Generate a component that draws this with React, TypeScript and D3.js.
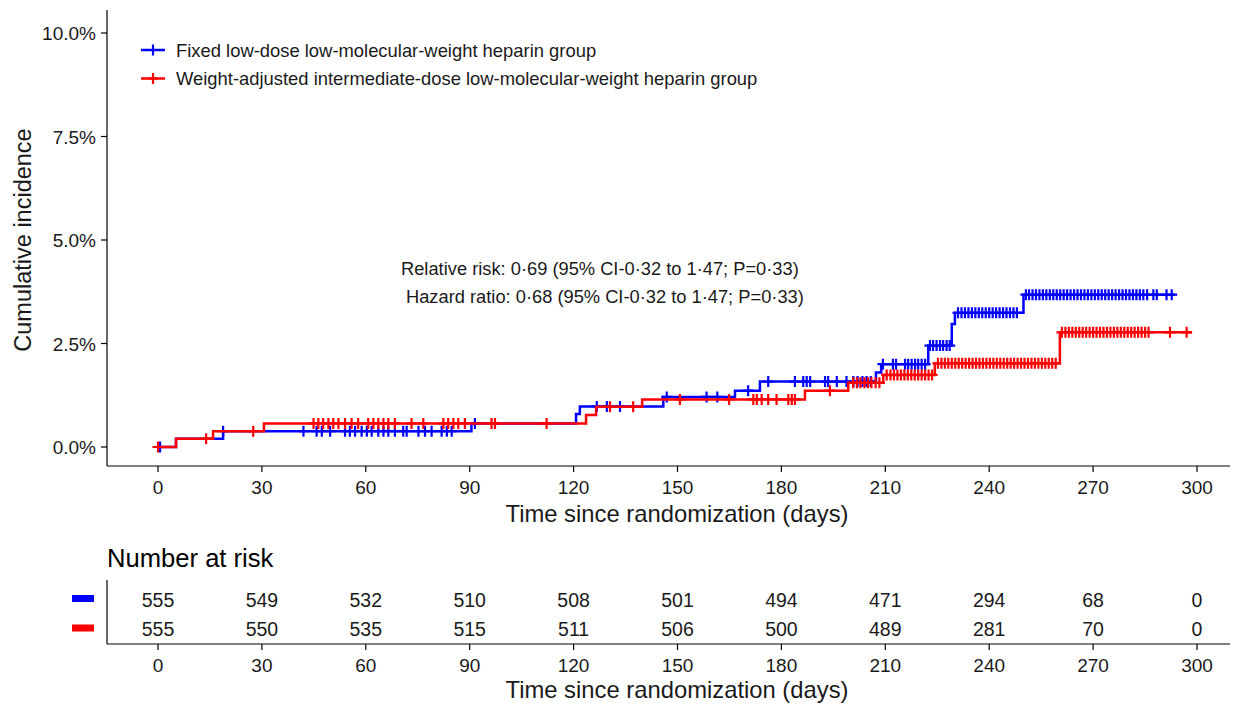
import React from 'react';
import * as d3 from 'd3';

// Cumulative incidence steps (day, %)
const blueTimes = [0, 5.2, 18.8, 90.5, 120.7, 121.8, 145.9, 166.6, 173.8, 207.3, 208.8, 222.4, 229.2, 230.1, 249.9];
const blueCum = [0, 0.2, 0.38, 0.57, 0.8, 0.98, 1.21, 1.36, 1.58, 1.8, 2.0, 2.45, 2.97, 3.24, 3.68];
const blueEnd = 293.6;

const redTimes = [0, 5.2, 15.9, 30.6, 123.6, 126.5, 139.8, 186.8, 199.3, 209.4, 224.3, 260.4];
const redCum = [0, 0.2, 0.38, 0.57, 0.77, 0.97, 1.15, 1.36, 1.55, 1.74, 2.02, 2.77];
const redEnd = 298.5;

// censoring marks (days)
const blueCensor = [
  0.6, 18.8, 42.0, 45.8, 47.3, 49.7, 54.0, 55.4, 56.9, 58.8, 60.3, 61.7, 63.6, 65.1, 66.5, 68.4, 70.8, 71.8,
  75.2, 77.1, 79.0, 81.9, 83.4, 84.8, 91.5, 126.7, 129.6, 133.4, 146.9, 158.4, 161.5, 170.4, 176.2, 183.9,
  186.3, 187.3, 188.3, 192.6, 193.5, 196.0, 198.8, 200.8, 202.0, 203.4, 204.6, 205.8, 209.3, 212.2, 213.1,
  215.7, 216.6, 217.6, 218.6, 219.5, 220.5, 221.5, 222.9, 223.8, 224.8, 225.8, 226.7, 227.7, 228.6, 231.0,
  232.0, 233.0, 234.0, 235.0, 236.0, 237.0, 238.0, 239.0, 240.0, 241.0, 242.0, 243.0, 244.0, 245.0, 246.0,
  247.0, 248.0, 250.6, 251.5, 252.5, 253.5, 254.5, 255.5, 256.5, 257.5, 258.5, 259.5, 260.5, 261.5, 262.5,
  263.5, 264.5, 265.5, 266.5, 267.5, 268.5, 269.5, 270.5, 271.5, 272.5, 273.5, 274.5, 275.5, 276.5, 277.5,
  278.5, 279.5, 280.5, 281.5, 282.5, 283.5, 284.5, 285.6, 287.4, 288.4, 291.2, 292.7,
];
const redCensor = [
  0, 13.9, 27.5, 44.9, 46.3, 47.7, 49.2, 50.6, 52.1, 54.0, 55.9, 57.8, 60.7, 62.2, 63.6, 65.1, 66.5, 68.4,
  73.2, 76.6, 82.4, 83.8, 85.3, 86.7, 88.6, 96.3, 97.3, 112.2, 130.5, 137.2, 150.7, 164.9, 171.9, 172.9,
  174.3, 176.2, 178.6, 182.0, 183.0, 183.9, 194.0, 200.7, 201.8, 202.8, 204.0, 205.0, 206.0, 207.2, 208.3,
  210.4, 211.5, 212.5, 213.5, 214.5, 215.5, 216.5, 217.5, 218.5, 219.5, 220.5, 221.5, 222.5, 223.5, 225.2,
  226.2, 227.2, 228.2, 229.2, 230.2, 231.2, 232.2, 233.2, 234.2, 235.2, 236.2, 237.2, 238.2, 239.2, 240.2,
  241.2, 242.2, 243.2, 244.2, 245.2, 246.2, 247.2, 248.2, 249.2, 250.2, 251.2, 252.2, 253.2, 254.2, 255.2,
  256.2, 257.2, 258.2, 259.2, 261.0, 262.0, 263.0, 264.0, 265.0, 266.0, 267.0, 268.0, 269.0, 270.0, 271.0,
  272.0, 273.0, 274.0, 275.0, 276.0, 277.0, 278.0, 279.0, 280.0, 281.0, 282.0, 283.0, 284.0, 285.0, 286.0,
  292.2, 297.0,
];

const dayTicks = [0, 30, 60, 90, 120, 150, 180, 210, 240, 270, 300];
const pctTicks = [0, 2.5, 5, 7.5, 10];
const riskBlue = [555, 549, 532, 510, 508, 501, 494, 471, 294, 68, 0];
const riskRed = [555, 550, 535, 515, 511, 506, 500, 489, 281, 70, 0];

const seriesNames = [
  'Fixed low-dose low-molecular-weight heparin group',
  'Weight-adjusted intermediate-dose low-molecular-weight heparin group',
];
const annotation = [
  'Relative risk: 0·69 (95% CI-0·32 to 1·47; P=0·33)',
  'Hazard ratio: 0·68 (95% CI-0·32 to 1·47; P=0·33)',
];

const BLUE = '#0000ff';
const RED = '#ff0000';
const FONT = '"Liberation Sans", Arial, sans-serif';
const TXT = '#1a1a1a';

const x = d3.scaleLinear().domain([0, 300]).range([158, 1197]);
const y = d3.scaleLinear().domain([0, 10]).range([447, 33]);

const stepLine = d3
  .line<[number, number]>()
  .x((d) => x(d[0]))
  .y((d) => y(d[1]))
  .curve(d3.curveStepAfter);

const pts = (times: number[], cum: number[], end: number): [number, number][] => [
  ...times.map((t, i) => [t, cum[i]] as [number, number]),
  [end, cum[cum.length - 1]],
];

const levelAt = (times: number[], cum: number[], t: number) => cum[Math.max(0, d3.bisectRight(times, t) - 1)];

const plus = (cx: number, cy: number, r = 5) => `M${cx - r},${cy}H${cx + r}M${cx},${cy - r}V${cy + r}`;

const Curve = ({ times, cum, end, censor, color }) => (
  <g>
    <path d={stepLine(pts(times, cum, end)) || ''} fill="none" stroke={color} strokeWidth={2.5} />
    <path
      d={censor.map((t) => plus(x(t), y(levelAt(times, cum, t)), 5.5)).join('')}
      fill="none"
      stroke={color}
      strokeWidth={2.2}
    />
  </g>
);

export default function App() {
  const axisY = 466;
  const tableY = 644;
  return (
    <svg width={1243} height={706} style={{ position: 'fixed', left: 0, top: 0, background: '#fff' }} fontFamily={FONT}>
      <rect width={1243} height={706} fill="#fff" />

      {/* y axis */}
      <line x1={107} x2={107} y1={10} y2={axisY} stroke="#000" strokeWidth={1.2} />
      {pctTicks.map((p) => (
        <g key={p}>
          <line x1={101} x2={107} y1={y(p)} y2={y(p)} stroke="#000" strokeWidth={1.2} />
          <text x={96} y={y(p) + 7} textAnchor="end" fontSize={19} fill={TXT}>
            {d3.format('.1f')(p)}%
          </text>
        </g>
      ))}
      <text transform="translate(31,240) rotate(-90)" textAnchor="middle" fontSize={23.5} fill={TXT}>
        Cumulative incidence
      </text>

      {/* x axis */}
      <line x1={107} x2={1230} y1={axisY} y2={axisY} stroke="#000" strokeWidth={1.2} />
      {dayTicks.map((d) => (
        <g key={d}>
          <line x1={x(d)} x2={x(d)} y1={axisY} y2={axisY + 6} stroke="#000" strokeWidth={1.2} />
          <text x={x(d)} y={494} textAnchor="middle" fontSize={19} fill={TXT}>
            {d}
          </text>
        </g>
      ))}
      <text x={677} y={522} textAnchor="middle" fontSize={23.8} fill={TXT}>
        Time since randomization (days)
      </text>

      {/* curves */}
      <Curve times={blueTimes} cum={blueCum} end={blueEnd} censor={blueCensor} color={BLUE} />
      <Curve times={redTimes} cum={redCum} end={redEnd} censor={redCensor} color={RED} />

      {/* legend */}
      {[BLUE, RED].map((c, i) => (
        <g key={c}>
          <line x1={141} x2={165} y1={50 + i * 28.5} y2={50 + i * 28.5} stroke={c} strokeWidth={2.5} />
          <path d={plus(153, 50 + i * 28.5, 5.5)} stroke={c} strokeWidth={2.2} />
          <text x={176} y={56.5 + i * 28.5} fontSize={18.4} fill={TXT}>
            {seriesNames[i]}
          </text>
        </g>
      ))}

      {/* annotation */}
      <text x={401} y={275} fontSize={18.3} fill={TXT}>
        {annotation[0]}
      </text>
      <text x={406} y={303} fontSize={18.3} fill={TXT}>
        {annotation[1]}
      </text>

      {/* risk table */}
      <text x={107} y={567} fontSize={25.6} fill="#000">
        Number at risk
      </text>
      <line x1={107} x2={107} y1={580} y2={tableY} stroke="#000" strokeWidth={1.2} />
      <line x1={107} x2={1230} y1={tableY} y2={tableY} stroke="#000" strokeWidth={1.2} />
      <rect x={72} y={595} width={22} height={7} fill={BLUE} />
      <rect x={72} y={624.5} width={22} height={7} fill={RED} />
      {dayTicks.map((d, i) => (
        <g key={d}>
          <text x={x(d)} y={606.5} textAnchor="middle" fontSize={19.5} fill={TXT}>
            {riskBlue[i]}
          </text>
          <text x={x(d)} y={636} textAnchor="middle" fontSize={19.5} fill={TXT}>
            {riskRed[i]}
          </text>
          <line x1={x(d)} x2={x(d)} y1={tableY} y2={tableY + 6} stroke="#000" strokeWidth={1.2} />
          <text x={x(d)} y={671.5} textAnchor="middle" fontSize={19} fill={TXT}>
            {d}
          </text>
        </g>
      ))}
      <text x={677} y={698} textAnchor="middle" fontSize={23.8} fill={TXT}>
        Time since randomization (days)
      </text>
    </svg>
  );
}
